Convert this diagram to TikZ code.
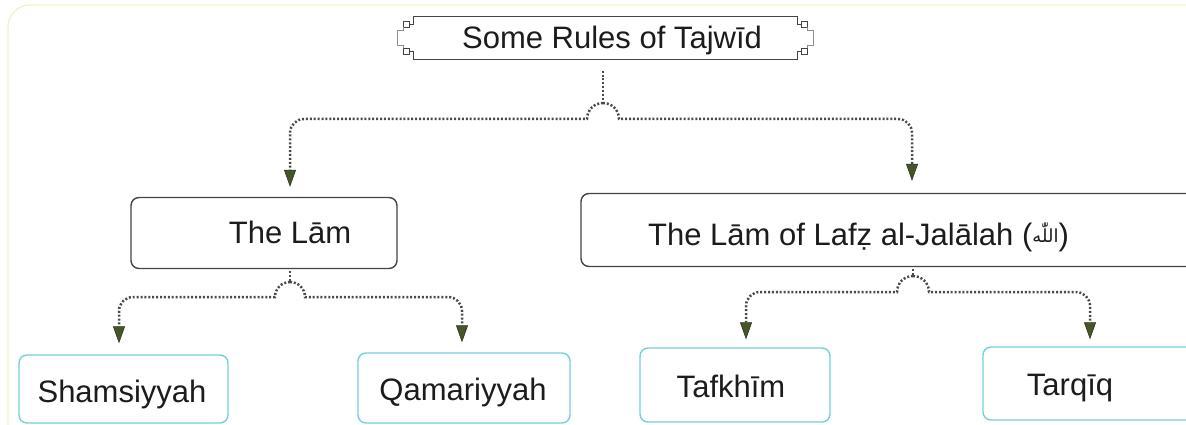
\documentclass[tikz,border=0pt]{standalone}
\usepackage{fontspec}
\setmainfont{Liberation Sans}
\newfontfamily\arabicfont[Script=Arabic]{DejaVu Sans}
\TeXXeTstate=1
\usetikzlibrary{arrows.meta,calc}

\definecolor{topedge}{HTML}{444444}
\definecolor{leafedge}{HTML}{72CFE2}
\definecolor{connc}{HTML}{4A4A4A}
\definecolor{arrowg}{HTML}{46552A}
\definecolor{arrowd}{HTML}{2E3818}
\definecolor{framec}{HTML}{EEF2C6}
\definecolor{textc}{HTML}{1C1C1C}

\tikzset{
  topbox/.style={draw=topedge, line width=1.4pt, rounded corners=8pt, inner sep=0pt, fill=white},
  leafbox/.style={draw=leafedge, line width=1.4pt, rounded corners=8pt, inner sep=0pt, fill=white},
  lbl/.style={inner sep=0pt, text=textc, font=\fontsize{31}{36}\selectfont},
  conn/.style={draw=connc, line width=2.5pt, dash pattern=on 2pt off 1.9pt},
  tip/.style={-{Triangle[width=12pt,length=17pt,line width=0.6pt,fill=arrowg,color=arrowd]}},
  ornament/.style={draw=topedge, line width=1.3pt},
  bracketline/.style={draw=topedge!60, line width=1pt}
}

\begin{document}
\begin{tikzpicture}[x=1pt,y=-1pt]
\useasboundingbox (0,0) rectangle (1186,425);

% pale outer frame
\draw[framec, line width=1.2pt, rounded corners=22pt] (1190,5) -- (8,5) -- (8,430);

% title plate
\node[inner sep=0pt, minimum width=383pt, minimum height=43pt] (title) at (605.5,38) {};
\draw[ornament] (title.north west) -- (title.north east);
\draw[ornament] (title.south west) -- (title.south east);
% left ornament
\draw[ornament] (title.north west) -- ++(0,8) -- ++(-4,0);
\draw[ornament] (title.south west) -- ++(0,-8) -- ++(-4,0);
\draw[ornament] ($(title.north west)+(-10,5)$) rectangle ++(6,6);
\draw[ornament] ($(title.south west)+(-10,-11)$) rectangle ++(6,6);
\draw[bracketline] ($(title.north west)+(-10,11)$) -- ++(0,3) -- ++(-6,0) -- ++(0,15) -- ++(6,0) -- ++(0,3);
% right ornament
\draw[ornament] (title.north east) -- ++(0,8) -- ++(4,0);
\draw[ornament] (title.south east) -- ++(0,-8) -- ++(4,0);
\draw[ornament] ($(title.north east)+(4,5)$) rectangle ++(6,6);
\draw[ornament] ($(title.south east)+(4,-11)$) rectangle ++(6,6);
\draw[bracketline] ($(title.north east)+(10,11)$) -- ++(0,3) -- ++(6,0) -- ++(0,15) -- ++(-6,0) -- ++(0,3);
\node[lbl, anchor=base] (titletxt) at (612,49) {Some Rules of Tajwīd};

% second level
\node[topbox, minimum width=266pt, minimum height=71pt] (lam) at (264,233) {};
\node[lbl, anchor=base] (lamtxt) at (290,243) {The Lām};
\node[topbox, minimum width=618pt, minimum height=73pt] (jal) at (890,230) {};
\node[lbl, anchor=base west] (jaltxt) at (648,245) {The Lām of Lafẓ al-Jalālah ({\arabicfont\fontsize{18}{18}\selectfont\raisebox{3pt}{\beginR اللّٰه\endR}})};

% third level
\node[leafbox, minimum width=209pt, minimum height=68pt] (sham) at (123.5,389) {};
\node[lbl, anchor=base] (shamtxt) at (122,402) {Shamsiyyah};
\node[leafbox, minimum width=212pt, minimum height=70pt] (qam) at (464,388) {};
\node[lbl, anchor=base] (qamtxt) at (463,400) {Qamariyyah};
\node[leafbox, minimum width=190pt, minimum height=74pt] (taf) at (735,385) {};
\node[lbl, anchor=base] (taftxt) at (731,397) {Tafkhīm};
\node[leafbox, minimum width=217pt, minimum height=73pt] (tar) at (1091.5,383.5) {};
\node[lbl, anchor=base] (tartxt) at (1070,395) {Tarqīq};

% junction points and drop lines of the connectors
\coordinate (j0) at (603,103);
\coordinate (jx) at (912,0);
\coordinate (j1) at (290,282);
\coordinate (x1) at (119,0);
\coordinate (x2) at (462,0);
\coordinate (j2) at (913,276);
\coordinate (x3) at (746,0);
\coordinate (x4) at (1090,0);

% title -> second level
\draw[conn] ($(title.south -| j0)+(0,11)$) -- (j0);
\draw[conn, tip] (j0) arc[start angle=270, end angle=180, radius=16]
  [rounded corners=14pt] -- ($(lamtxt |- j0)+(0,16)$) -- ($(lamtxt |- lam.north)+(0,-10)$);
\draw[conn, tip] (j0) arc[start angle=270, end angle=360, radius=16]
  [rounded corners=14pt] -- ($(jx |- j0)+(0,16)$) -- ($(jx |- jal.north)+(0,-12)$);

% The Lam -> leaves
\draw[conn] ($(lam.south -| j1)+(0,2)$) -- (j1);
\draw[conn, tip] (j1) arc[start angle=270, end angle=180, radius=15]
  [rounded corners=14pt] -- ($(x1 |- j1)+(0,15)$) -- ($(x1 |- sham.north)+(0,-11)$);
\draw[conn, tip] (j1) arc[start angle=270, end angle=360, radius=15]
  [rounded corners=14pt] -- ($(x2 |- j1)+(0,15)$) -- ($(x2 |- qam.north)+(0,-10)$);

% Lam of al-Jalalah -> leaves
\draw[conn] ($(jal.south -| j2)+(0,2)$) -- (j2);
\draw[conn, tip] (j2) arc[start angle=270, end angle=180, radius=16]
  [rounded corners=14pt] -- ($(x3 |- j2)+(0,16)$) -- ($(x3 |- taf.north)+(0,-8)$);
\draw[conn, tip] (j2) arc[start angle=270, end angle=360, radius=16]
  [rounded corners=14pt] -- ($(x4 |- j2)+(0,16)$) -- ($(x4 |- tar.north)+(0,-7)$);
\end{tikzpicture}
\end{document}
